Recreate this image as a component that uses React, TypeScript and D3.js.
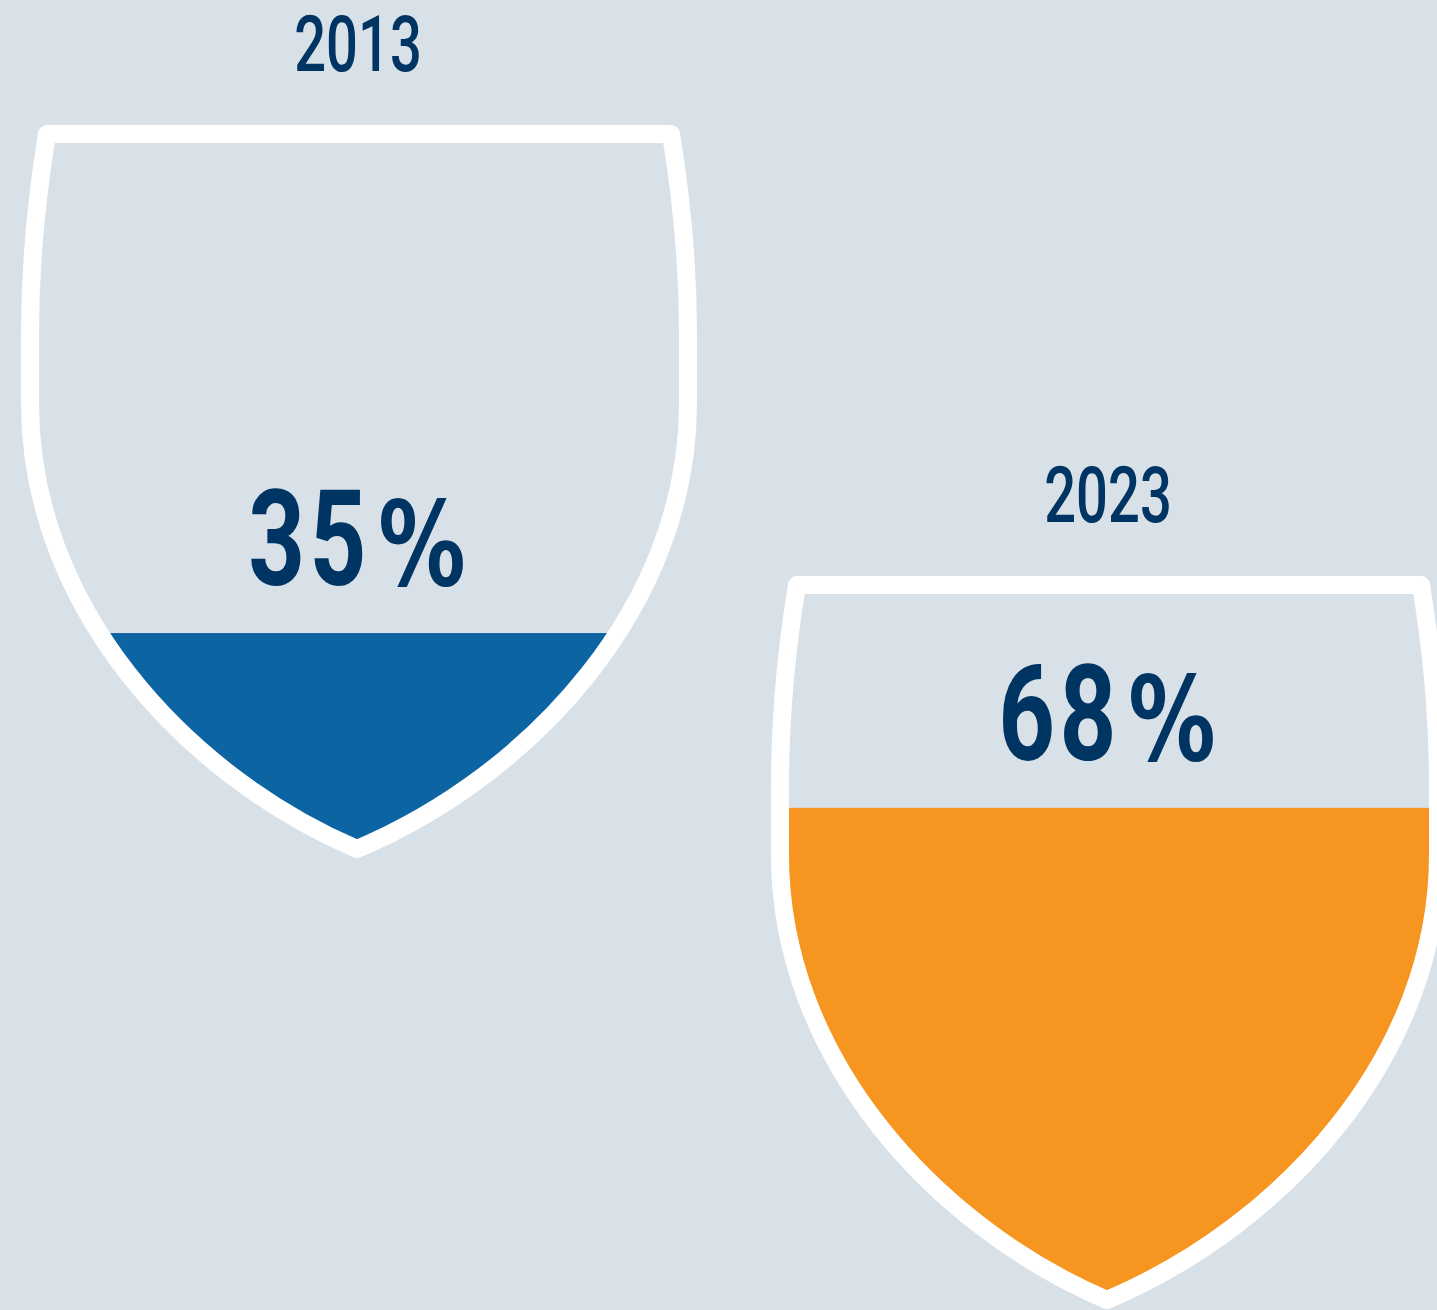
import React from "react";
import * as d3 from "d3";

const years = ["2013", "2023"];
const shares = [35, 68];
const fillColors = ["#0d64a2", "#f6951f"];

const W = 1437;
const H = 1310;
const BG = "#d9e1e8";
const NAVY = "#003462";

// shield outline in local coordinates (x from centre, y from top edge)
function shieldPath(): string {
  const p = d3.path();
  p.moveTo(-312, 0);
  p.lineTo(312, 0);
  p.bezierCurveTo(321, 55, 329, 130, 329, 200);
  p.lineTo(329, 270);
  p.bezierCurveTo(329, 470, 175, 640, -2, 715);
  p.bezierCurveTo(-177, 640, -329, 470, -329, 270);
  p.lineTo(-329, 200);
  p.bezierCurveTo(-329, 130, -321, 55, -312, 0);
  p.closePath();
  return p.toString();
}

export default function App() {
  React.useEffect(() => {
    document.body.style.margin = "0";
  }, []);
  const cx = d3.scalePoint<string>().domain(years).range([359, 1109]);
  const top = d3.scalePoint<string>().domain(years).range([134, 585]);
  const level = d3.scaleLinear().domain([0, 100]).range([792, -45]);
  const d = shieldPath();
  return (
    <svg width={W} height={H} style={{ position: "absolute", left: 0, top: 0, display: "block" }}>
      <rect width={W} height={H} fill={BG} />
      <defs>
        <clipPath id="shield-clip">
          <path d={d} />
        </clipPath>
      </defs>
      {years.map((y, i) => {
        const fy = level(shares[i]);
        return (
          <g key={y} transform={`translate(${cx(y)},${top(y)})`}>
            <g clipPath="url(#shield-clip)">
              <rect x={-345} y={fy} width={690} height={760 - fy} fill={fillColors[i]} />
            </g>
            <path d={d} fill="none" stroke="#ffffff" strokeWidth={18} strokeLinejoin="round" />
            <text
              transform={`translate(-1,-63) scale(0.72,1)`}
              textAnchor="middle"
              fontFamily="Roboto, 'Noto Sans', sans-serif"
              fontWeight={500}
              fontSize={78}
              fill={NAVY}
            >
              {y}
            </text>
            <text
              transform={`translate(-2,${fy - 48}) scale(0.74,1)`}
              textAnchor="middle"
              fontFamily="Roboto, 'Noto Sans', sans-serif"
              fontWeight={700}
              fontSize={134}
              fill={NAVY}
            >
              <tspan letterSpacing={6}>{`${shares[i]}`}</tspan>
              <tspan fontFamily="'DejaVu Sans', sans-serif" fontSize={118} dx={10}>%</tspan>
            </text>
          </g>
        );
      })}
    </svg>
  );
}
